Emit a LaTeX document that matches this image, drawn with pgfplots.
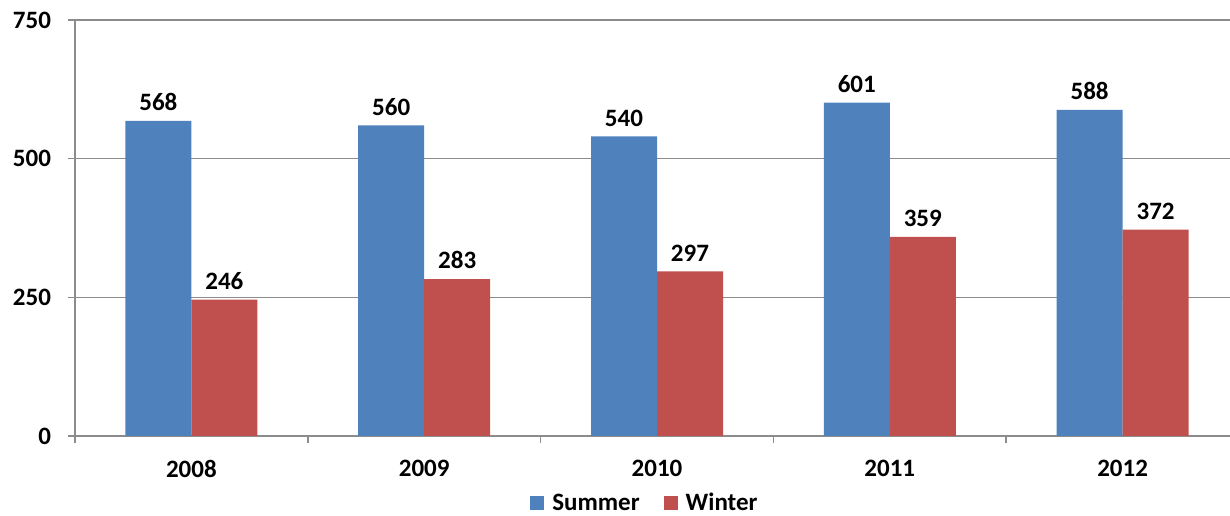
\documentclass[border=0pt]{standalone}
\usepackage{pgfplots}
\pgfplotsset{compat=1.18}
\usepackage{fontspec}
\setmainfont{Carlito}
\usetikzlibrary{calc}
\definecolor{sumblue}{HTML}{4F81BD}
\definecolor{winred}{HTML}{C0504D}
\definecolor{gridgray}{HTML}{8C8C8C}
\begin{document}
\begin{tikzpicture}
\begin{axis}[
  scale only axis,
  width=582pt, height=208pt,
  ybar=0pt, bar width=33pt,
  xmin=-0.5, xmax=4.5,
  ymin=0, ymax=750,
  xtick={0,1,2,3,4},
  xticklabels={2008,2009,2010,2011,2012},
  minor xtick={-0.5,0.5,1.5,2.5,3.5,4.5},
  ytick={0,250,500,750},
  axis x line*=bottom, axis y line*=left,
  axis line style={draw=gridgray, line width=0.8pt, -},
  ymajorgrids, grid style={draw=gridgray, line width=0.8pt},
  major x tick style={draw=none},
  minor x tick style={draw=gridgray, line width=0.8pt},
  y tick style={draw=gridgray, line width=0.8pt},
  tick align=outside,
  major tick length=3.5pt, minor tick length=3.5pt,
  /pgf/number format/assume math mode=true,
  ticklabel style={font=\fontsize{12.5}{14}\selectfont\bfseries},
  xticklabel style={yshift=-5pt},
  yticklabel style={xshift=-5pt},
  nodes near coords,
  every node near coord/.append style={font=\fontsize{12.5}{14}\selectfont\bfseries, yshift=1.5pt},
  legend style={at={(0.4905,-0.122)}, anchor=north, draw=none, legend columns=2,
    inner sep=1pt, font=\fontsize{12.5}{14}\selectfont\bfseries,
    /tikz/every odd column/.append style={column sep=2pt},
    /tikz/every even column/.append style={column sep=10pt}},
  legend image code/.code={\fill[#1,draw=none] (0pt,-3.5pt) rectangle (7pt,3.5pt);},
  clip=false,
]
\addplot[fill=sumblue, draw=none] coordinates {(0,568) (1,560) (2,540) (3,601) (4,588)};
\addplot[fill=winred, draw=none] coordinates {(0,246) (1,283) (2,297) (3,359) (4,372)};
\legend{Summer, Winter}
\end{axis}
\pgfresetboundingbox
\path ($(current axis.south west)+(-37.5pt,-40pt)$) rectangle ($(current axis.north east)+(-4.5pt,10pt)$);
\end{tikzpicture}
\end{document}
